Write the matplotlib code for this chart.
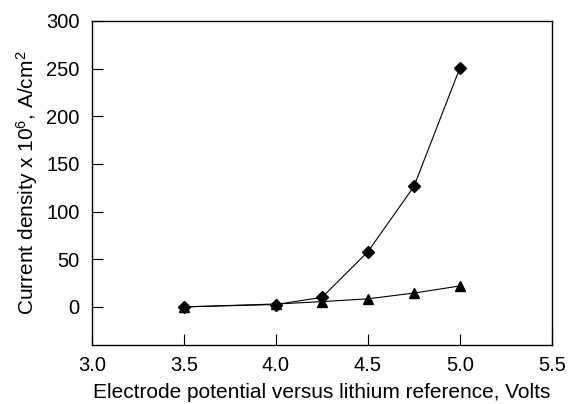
import numpy as np
import matplotlib
matplotlib.use("Agg")
import matplotlib.pyplot as plt

plt.rcParams['font.family'] = ['Liberation Sans', 'DejaVu Sans']
plt.rcParams['mathtext.default'] = 'regular'

# Electrode potential (V) and current density (x 10^6 A/cm^2)
potential = [3.5, 4.0, 4.25, 4.5, 4.75, 5.0]
current_diamond = [0, 2.5, 10, 58, 126.5, 251]
current_triangle = [0, 3, 5.5, 8.5, 14.5, 22]

x_ticks = [3.0, 3.5, 4.0, 4.5, 5.0, 5.5]
y_ticks = [0, 50, 100, 150, 200, 250, 300]

fig = plt.figure(figsize=(5.68, 4.04), dpi=100)
ax = fig.add_axes([92 / 568, 1 - 345 / 404, 460 / 568, 324 / 404])

ax.plot(potential, current_triangle, color='black', lw=0.8, marker='^', markersize=7)
ax.plot(potential, current_diamond, color='black', lw=0.8, marker='D', markersize=6.5)

ax.set_xlim(3.0, 5.5)
ax.set_ylim(-40, 300)
ax.set_xticks(x_ticks)
ax.set_xticklabels([f"{v:.1f}" for v in x_ticks])
ax.set_yticks(y_ticks)
ax.tick_params(direction='in', length=8, width=0.8, labelsize=14.5)
ax.tick_params(axis='x', pad=8)
ax.tick_params(axis='y', pad=9)
for s in ax.spines.values():
    s.set_linewidth(1.0)

ax.set_xlabel("Electrode potential versus lithium reference, Volts", fontsize=15, labelpad=6)
ax.set_ylabel("Current density x 10$^{6}$, A/cm$^{2}$", fontsize=15, labelpad=4)

fig.savefig("out.png", dpi=100)
